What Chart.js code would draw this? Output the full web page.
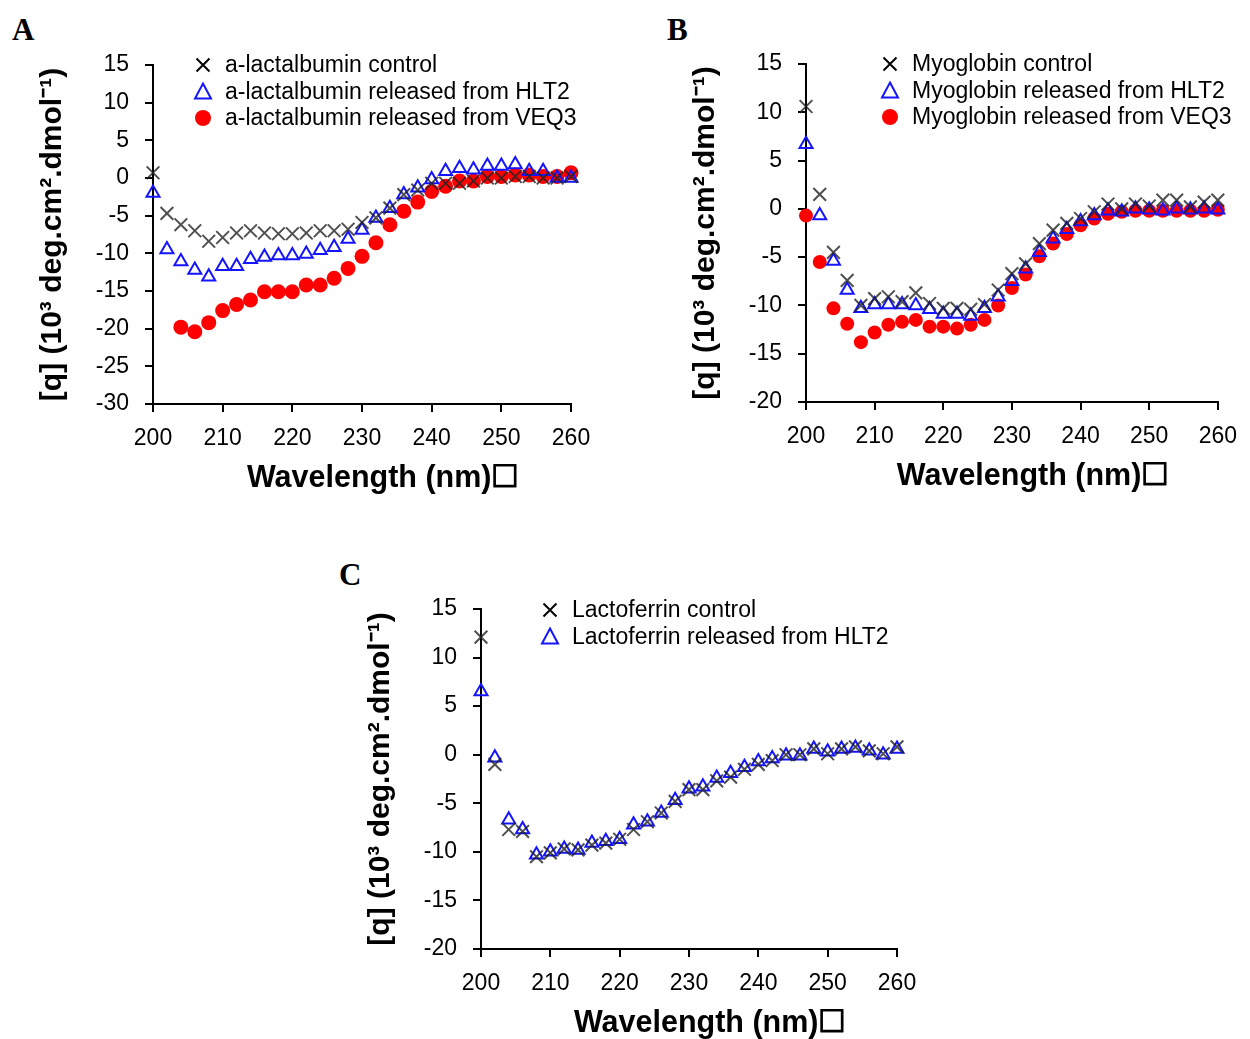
<!DOCTYPE html>
<html>
<head>
<meta charset="utf-8">
<script src="https://cdn.jsdelivr.net/npm/chart.js@4.4.1/dist/chart.umd.min.js"></script>
<style>
  html, body { margin: 0; padding: 0; background: #fff; }
  body { width: 1250px; height: 1039px; position: relative; overflow: hidden; }
  .panel { position: absolute; }
  .letter { position: absolute; font-family: "Liberation Serif", "Times New Roman", serif; font-weight: bold; font-size: 31px; line-height: 1; color: #000; }
</style>
</head>
<body>
<div class="letter" style="left:12px;top:14px">A</div>
<div class="letter" style="left:667px;top:14px">B</div>
<div class="letter" style="left:339px;top:559px">C</div>

<div class="panel" style="left:30px;top:0;width:590px;height:509px"><canvas id="chartA"></canvas></div>
<div class="panel" style="left:683px;top:0;width:567px;height:507px"><canvas id="chartB"></canvas></div>
<div class="panel" style="left:358px;top:543px;width:579px;height:511px"><canvas id="chartC"></canvas></div>

<script>
// wavelength (nm), every 2 nm
const wavelengths = [200, 202, 204, 206, 208, 210, 212, 214, 216, 218, 220, 222, 224, 226, 228, 230,
                     232, 234, 236, 238, 240, 242, 244, 246, 248, 250, 252, 254, 256, 258, 260];

// A - a-lactalbumin
const lactControl = [0.7, -4.7, -6.2, -7.0, -8.4, -7.9, -7.3, -7.0, -7.3, -7.4, -7.4, -7.3, -7.0, -7.0, -6.8, -5.9,
                     -5.3, -4.0, -2.2, -1.6, -0.7, -0.7, -0.7, -0.4, 0.0, 0.0, 0.2, 0.2, 0.0, 0.0, 0.2];
const lactHLT2 = [-2.0, -9.5, -11.1, -12.2, -13.1, -11.7, -11.7, -10.8, -10.5, -10.3, -10.3, -10.1, -9.6, -9.2, -8.1, -6.9,
                  -5.3, -4.0, -2.2, -1.3, -0.2, 0.9, 1.3, 1.1, 1.6, 1.6, 1.8, 0.9, 0.9, 0.0, 0.0];
const lactVEQ3 = [null, null, -19.8, -20.4, -19.2, -17.6, -16.8, -16.2, -15.1, -15.1, -15.1, -14.2, -14.2, -13.3, -12.0, -10.4,
                  -8.6, -6.2, -4.4, -3.2, -1.8, -1.1, -0.4, -0.4, 0.2, 0.2, 0.4, 0.4, 0.2, 0.2, 0.7];

// B - myoglobin
const myoControl = [10.6, 1.5, -4.5, -7.4, -10.0, -9.3, -9.1, -9.6, -8.7, -9.8, -10.3, -10.3, -10.4, -9.9, -8.4, -6.7,
                    -5.7, -3.6, -2.2, -1.5, -1.0, -0.3, 0.5, 0.0, 0.5, 0.3, 0.9, 0.9, 0.2, 0.7, 0.9];
const myoHLT2 = [6.7, -0.7, -5.4, -8.4, -10.3, -9.9, -9.9, -9.9, -10.0, -10.4, -10.9, -10.9, -11.1, -10.3, -9.1, -7.5,
                 -6.2, -4.5, -3.1, -2.1, -1.3, -0.7, -0.2, -0.3, 0.0, -0.1, -0.2, 0.0, -0.1, 0.0, -0.1];
const myoVEQ3 = [-0.7, -5.5, -10.3, -11.9, -13.8, -12.8, -12.0, -11.7, -11.5, -12.2, -12.2, -12.4, -12.0, -11.5, -10.0, -8.2,
                 -6.8, -4.9, -3.6, -2.6, -1.7, -1.0, -0.5, -0.3, -0.2, -0.2, -0.2, -0.2, -0.2, -0.2, -0.1];

// C - lactoferrin
const lactoControl = [12.1, -1.0, -7.7, -7.9, -10.5, -10.1, -9.7, -9.8, -9.3, -9.1, -8.7, -7.7, -6.9, -6.0, -4.8, -3.6,
                      -3.6, -2.7, -2.3, -1.5, -1.0, -0.6, 0.0, 0.0, 0.6, 0.1, 0.6, 0.8, 0.4, 0.1, 0.8];
const lactoHLT2 = [6.5, -0.3, -6.7, -7.7, -10.3, -10.0, -9.7, -9.8, -9.1, -8.9, -8.7, -7.2, -6.9, -6.0, -4.7, -3.5,
                   -3.3, -2.4, -1.9, -1.3, -0.7, -0.4, -0.1, -0.1, 0.6, 0.3, 0.6, 0.7, 0.4, 0.0, 0.6];

const xTitle = "Wavelength (nm)\u2610";
const yTitle = "[q] (10\u00B3 deg.cm\u00B2.dmol\u207B\u00B9)";

Chart.defaults.font.family = "'Liberation Sans', Arial, sans-serif";
Chart.defaults.color = "#000";

function points(values) {
    return wavelengths.map((w, i) => ({ x: w, y: values[i] })).filter(p => p.y !== null);
}

function controlSet(label, values) {
    return { label: label, data: points(values), pointStyle: "crossRot", pointRadius: 9, pointBorderWidth: 2,
             borderColor: "rgba(35,35,35,0.8)", backgroundColor: "rgba(35,35,35,0.8)", clip: false };
}
function hltSet(label, values) {
    return { label: label, data: points(values), pointStyle: "triangle", pointRadius: 7.5, pointBorderWidth: 2,
             borderColor: "#1414ff", backgroundColor: "rgba(255,255,255,0)", clip: false };
}
function veqSet(label, values, r) {
    return { label: label, data: points(values), pointStyle: "circle", pointRadius: r, pointBorderWidth: 0,
             borderColor: "#ff0000", backgroundColor: "#ff0000", clip: false };
}

// draws the marker legend inside the plot, top right
const markerLegend = {
    id: "markerLegend",
    afterDraw(chart, args, opts) {
        const ctx = chart.ctx;
        const area = chart.chartArea;
        ctx.save();
        chart.data.datasets.forEach((ds, i) => {
            const x = area.left + opts.x;
            const y = area.top + opts.y + i * opts.gap;
            ctx.lineWidth = 2;
            ctx.strokeStyle = ds.pointStyle === "crossRot" ? "#000" : ds.borderColor;
            ctx.fillStyle = ds.backgroundColor;
            ctx.beginPath();
            if (ds.pointStyle === "crossRot") {
                ctx.moveTo(x - 6.5, y - 6.5); ctx.lineTo(x + 6.5, y + 6.5);
                ctx.moveTo(x + 6.5, y - 6.5); ctx.lineTo(x - 6.5, y + 6.5);
                ctx.stroke();
            } else if (ds.pointStyle === "triangle") {
                ctx.moveTo(x, y - 8); ctx.lineTo(x + 8, y + 7); ctx.lineTo(x - 8, y + 7); ctx.closePath();
                ctx.stroke();
            } else {
                ctx.arc(x, y, 8, 0, Math.PI * 2);
                ctx.fill();
            }
            ctx.fillStyle = "#000";
            ctx.font = "23px 'Liberation Sans', Arial, sans-serif";
            ctx.textBaseline = "middle";
            ctx.fillText(ds.label, x + 22, y + 1);
        });
        ctx.restore();
    }
};

function makeScales(yMin) {
    return {
        x: {
            type: "linear", min: 200, max: 260,
            ticks: { stepSize: 10, padding: 13, maxRotation: 0, font: { size: 23 }, color: "#000" },
            grid: { drawOnChartArea: false, drawTicks: true, tickLength: 8, color: "#000", lineWidth: 2 },
            border: { color: "#000", width: 2 },
            title: { display: true, text: "     " + xTitle, font: { size: 30.5, weight: "bold" }, color: "#000",
                     padding: { top: 0, bottom: 12 } },
            afterFit(scale) { scale.height = 105; }
        },
        y: {
            type: "linear", min: yMin, max: 15,
            ticks: { stepSize: 5, padding: 16, font: { size: 23 }, color: "#000" },
            grid: { drawOnChartArea: false, drawTicks: true, tickLength: 8, color: "#000", lineWidth: 2 },
            border: { color: "#000", width: 2 },
            title: { display: true, text: yTitle, font: { size: 30, weight: "bold" }, color: "#000",
                     padding: { top: 5, bottom: 0 } },
            afterFit(scale) { scale.width = 123; }
        }
    };
}

function makeChart(id, datasets, yMin, pad, legend) {
    return new Chart(document.getElementById(id), {
        type: "scatter",
        data: { datasets: datasets },
        options: {
            responsive: true,
            maintainAspectRatio: false,
            animation: false,
            events: [],
            layout: { padding: pad },
            plugins: { legend: { display: false }, tooltip: { enabled: false }, markerLegend: legend },
            scales: makeScales(yMin)
        },
        plugins: [markerLegend]
    });
}

makeChart("chartA", [
    controlSet("a-lactalbumin control", lactControl),
    hltSet("a-lactalbumin released from HLT2", lactHLT2),
    veqSet("a-lactalbumin released from VEQ3", lactVEQ3, 7.5)
], -30, { left: 0, top: 65, right: 49, bottom: 0 }, { x: 50, y: 0, gap: 26.5 });

makeChart("chartB", [
    controlSet("Myoglobin control", myoControl),
    hltSet("Myoglobin released from HLT2", myoHLT2),
    veqSet("Myoglobin released from VEQ3", myoVEQ3, 7)
], -20, { left: 0, top: 64, right: 27, bottom: 0 }, { x: 84, y: 0, gap: 26.5 });

makeChart("chartC", [
    controlSet("Lactoferrin control", lactoControl),
    hltSet("Lactoferrin released from HLT2", lactoHLT2)
], -20, { left: 0, top: 66, right: 40, bottom: 0 }, { x: 69, y: 1, gap: 26.5 });
</script>
</body>
</html>
